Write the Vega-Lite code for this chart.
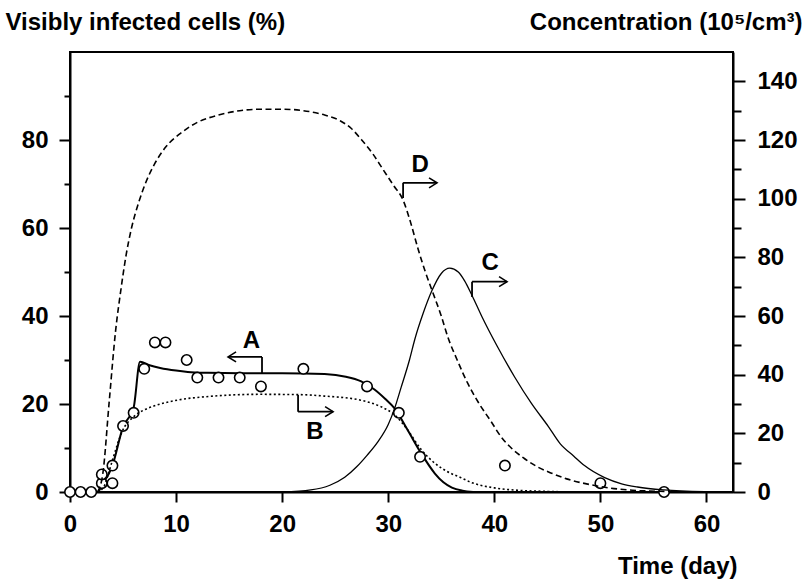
{
  "$schema": "https://vega.github.io/schema/vega-lite/v6.json",
  "width": 663,
  "height": 440,
  "autosize": "none",
  "padding": {"left": 70, "top": 52, "right": 73, "bottom": 89},
  "background": "white",
  "config": {
    "view": {"stroke": "black", "strokeWidth": 2},
    "font": "Liberation Sans",
    "axis": {
      "grid": false,
      "domainColor": "black",
      "domainWidth": 2,
      "tickColor": "black",
      "tickWidth": 2,
      "labelColor": "black",
      "labelFont": "Liberation Sans",
      "labelFontSize": 24,
      "labelFontWeight": "bold",
      "titleColor": "black",
      "titleFont": "Liberation Sans",
      "titleFontSize": 24,
      "titleFontWeight": "bold",
      "labelOverlap": false,
      "labelFlush": false,
      "titleAngle": 0
    }
  },
  "datasets": {
    "cells": [
      {"day": 0, "val": 0}, {"day": 1, "val": 0}, {"day": 2, "val": 0},
      {"day": 3, "val": 2}, {"day": 3, "val": 4}, {"day": 4, "val": 2}, {"day": 4, "val": 6},
      {"day": 5, "val": 15}, {"day": 6, "val": 18}, {"day": 7, "val": 28}, {"day": 8, "val": 34},
      {"day": 9, "val": 34}, {"day": 11, "val": 30}, {"day": 12, "val": 26}, {"day": 14, "val": 26},
      {"day": 16, "val": 26}, {"day": 18, "val": 24}, {"day": 22, "val": 28}, {"day": 28, "val": 24},
      {"day": 31, "val": 18}, {"day": 33, "val": 8}, {"day": 41, "val": 6}, {"day": 50, "val": 2},
      {"day": 56, "val": 0}
    ],
    "curveA": [
      {"day": 0, "val": 0}, {"day": 2.6, "val": 0}, {"day": 3, "val": 1.5}, {"day": 4, "val": 6},
      {"day": 5, "val": 14.8}, {"day": 6, "val": 19.2}, {"day": 6.6, "val": 29.6}, {"day": 7.5, "val": 28.8},
      {"day": 8.5, "val": 28.2}, {"day": 10, "val": 27.6}, {"day": 11.1, "val": 27.3}, {"day": 13, "val": 27.1},
      {"day": 16, "val": 27}, {"day": 20, "val": 27}, {"day": 24, "val": 26.8}, {"day": 26, "val": 26.2},
      {"day": 27.4, "val": 25.2}, {"day": 28.7, "val": 23.3}, {"day": 29.7, "val": 21.2}, {"day": 30.6, "val": 19},
      {"day": 31.8, "val": 14.2}, {"day": 33.1, "val": 8.8}, {"day": 34.4, "val": 4.2}, {"day": 35.2, "val": 2.2},
      {"day": 36, "val": 1}, {"day": 37, "val": 0.3}, {"day": 38, "val": 0}
    ],
    "curveB": [
      {"day": 2.6, "val": 0}, {"day": 3.2, "val": 1.8}, {"day": 3.6, "val": 6}, {"day": 4.1, "val": 12},
      {"day": 4.9, "val": 20.5}, {"day": 6, "val": 25.7}, {"day": 7, "val": 28}, {"day": 7.9, "val": 29.3},
      {"day": 10.1, "val": 31.3}, {"day": 13.2, "val": 32.6}, {"day": 17.9, "val": 33.3}, {"day": 21.5, "val": 33.2},
      {"day": 24, "val": 32.7}, {"day": 27.4, "val": 31.3}, {"day": 29.3, "val": 29.1}, {"day": 30.6, "val": 26.3},
      {"day": 31.8, "val": 21.3}, {"day": 33.1, "val": 14.5}, {"day": 34.4, "val": 9.8}, {"day": 35.6, "val": 6.9},
      {"day": 36.9, "val": 4.8}, {"day": 37.8, "val": 3.3}, {"day": 40, "val": 1.4}, {"day": 42.2, "val": 0.6},
      {"day": 45, "val": 0.2}, {"day": 48, "val": 0}
    ],
    "curveC": [
      {"day": 20, "val": 0}, {"day": 22.7, "val": 0.7}, {"day": 24.5, "val": 2.3}, {"day": 25.9, "val": 5},
      {"day": 27, "val": 8.5}, {"day": 28, "val": 12.5}, {"day": 29, "val": 17}, {"day": 30, "val": 23},
      {"day": 30.6, "val": 28.5}, {"day": 31.2, "val": 35.5}, {"day": 32, "val": 45}, {"day": 32.5, "val": 52},
      {"day": 33.3, "val": 61}, {"day": 34.1, "val": 68.5}, {"day": 35, "val": 74.5}, {"day": 35.8, "val": 76.3},
      {"day": 36.6, "val": 75}, {"day": 37.2, "val": 72}, {"day": 37.9, "val": 67}, {"day": 38.8, "val": 60},
      {"day": 40.3, "val": 49.5}, {"day": 41.9, "val": 39.3}, {"day": 43.5, "val": 30.2}, {"day": 45.1, "val": 22.3},
      {"day": 46.2, "val": 16.5}, {"day": 47.5, "val": 12.2}, {"day": 48.5, "val": 9}, {"day": 50.4, "val": 4.9},
      {"day": 52, "val": 2.8}, {"day": 53.5, "val": 1.7}, {"day": 56, "val": 0.7}, {"day": 60, "val": 0.1},
      {"day": 62.5, "val": 0}
    ],
    "curveD": [
      {"day": 2.6, "val": 0}, {"day": 3.1, "val": 6.4}, {"day": 3.7, "val": 31}, {"day": 4.3, "val": 55},
      {"day": 4.8, "val": 69}, {"day": 5.3, "val": 81}, {"day": 5.8, "val": 90}, {"day": 6.5, "val": 99},
      {"day": 7.2, "val": 106}, {"day": 8, "val": 112}, {"day": 9, "val": 117.5}, {"day": 10.5, "val": 122.5},
      {"day": 12, "val": 126}, {"day": 14, "val": 128.5}, {"day": 16, "val": 130}, {"day": 18, "val": 130.5},
      {"day": 20, "val": 130.5}, {"day": 22, "val": 130}, {"day": 24, "val": 128.5}, {"day": 25.5, "val": 126.5},
      {"day": 26.5, "val": 124}, {"day": 27.5, "val": 120}, {"day": 28.5, "val": 115.5}, {"day": 29.5, "val": 110},
      {"day": 30.5, "val": 104.5}, {"day": 31.4, "val": 99.5}, {"day": 32.1, "val": 92}, {"day": 32.8, "val": 83},
      {"day": 33.5, "val": 75}, {"day": 34.1, "val": 69}, {"day": 35, "val": 60}, {"day": 35.6, "val": 53},
      {"day": 36.5, "val": 45}, {"day": 37.5, "val": 37}, {"day": 38.5, "val": 30.5}, {"day": 39.7, "val": 24},
      {"day": 40.6, "val": 19}, {"day": 41.6, "val": 15}, {"day": 42.8, "val": 11.5}, {"day": 44, "val": 8.7},
      {"day": 45.4, "val": 6.4}, {"day": 47, "val": 4.3}, {"day": 49.2, "val": 2.4}, {"day": 51, "val": 1.3},
      {"day": 53, "val": 0.6}, {"day": 56, "val": 0.2}, {"day": 60, "val": 0}, {"day": 62.5, "val": 0}
    ],
    "arrowsL": [
      {"day": 18.1, "day2": 18.1, "val": 27.0, "val2": 30.7},
      {"day": 14.9, "day2": 18.1, "val": 30.7, "val2": 30.7}
    ],
    "headsL": [{"day": 14.9, "val": 30.7}],
    "labelsL": [{"day": 17.1, "val": 34.4, "label": "A"}],
    "arrowsR": [
      {"day": 21.5, "day2": 21.5, "val": 27.4, "val2": 33.1},
      {"day": 21.5, "day2": 24.8, "val": 27.4, "val2": 27.4},
      {"day": 37.9, "day2": 37.9, "val": 66.5, "val2": 71.7},
      {"day": 37.9, "day2": 41.2, "val": 71.7, "val2": 71.7},
      {"day": 31.4, "day2": 31.4, "val": 100.2, "val2": 105.4},
      {"day": 31.4, "day2": 34.6, "val": 105.4, "val2": 105.4}
    ],
    "headsR": [
      {"day": 24.8, "val": 27.4},
      {"day": 41.2, "val": 71.7},
      {"day": 34.6, "val": 105.4}
    ],
    "labelsR": [
      {"day": 23.1, "val": 20.6, "label": "B"},
      {"day": 39.6, "val": 78, "label": "C"},
      {"day": 33.0, "val": 111.5, "label": "D"}
    ]
  },
  "layer": [
    {
      "encoding": {
        "x": {
          "field": "day", "type": "quantitative", "title": "Time (day)",
          "scale": {"domain": [0, 62.5], "nice": false, "zero": false},
          "axis": {
            "orient": "bottom", "values": [0, 10, 20, 30, 40, 50, 60],
            "tickSize": 10, "labelPadding": 10,
            "titleX": 667, "titleY": 74, "titleAlign": "right", "titleBaseline": "middle"
          }
        },
        "y": {
          "field": "val", "type": "quantitative", "title": "Visibly infected cells (%)",
          "scale": {"domain": [0, 100], "nice": false},
          "axis": {
            "orient": "left", "values": [0, 10, 20, 30, 40, 50, 60, 70, 80, 90],
            "labelExpr": "datum.value % 20 === 0 ? datum.label : ''",
            "tickSize": {"condition": {"test": "datum.value % 20 === 0", "value": 11}, "value": 6},
            "labelPadding": 11,
            "titleX": -65, "titleY": -30, "titleAlign": "left", "titleBaseline": "middle"
          }
        }
      },
      "layer": [
        {"data": {"name": "curveA"}, "mark": {"type": "line", "interpolate": "monotone", "color": "black", "strokeWidth": 2}},
        {"data": {"name": "arrowsL"}, "mark": {"type": "rule", "color": "black", "strokeWidth": 1.8},
         "encoding": {"x2": {"field": "day2"}, "y2": {"field": "val2"}}},
        {"data": {"name": "headsL"}, "mark": {"type": "point", "shape": "M 2 -1.25 L 0 0 L 2 1.25", "size": 64, "filled": false, "stroke": "black", "strokeWidth": 1.6, "opacity": 1}},
        {"data": {"name": "labelsL"}, "mark": {"type": "text", "font": "Liberation Sans", "fontSize": 24, "fontWeight": "bold", "color": "black", "align": "center", "baseline": "middle"},
         "encoding": {"text": {"field": "label"}}},
        {"data": {"name": "cells"}, "mark": {"type": "point", "shape": "circle", "size": 108, "filled": true, "fill": "white", "stroke": "black", "strokeWidth": 1.6, "opacity": 1}}
      ]
    },
    {
      "encoding": {
        "x": {
          "field": "day", "type": "quantitative", "title": "Time (day)",
          "scale": {"domain": [0, 62.5], "nice": false, "zero": false},
          "axis": {
            "orient": "bottom", "values": [0, 10, 20, 30, 40, 50, 60],
            "tickSize": 10, "labelPadding": 10,
            "titleX": 667, "titleY": 74, "titleAlign": "right", "titleBaseline": "middle"
          }
        },
        "y": {
          "field": "val", "type": "quantitative", "title": "Concentration (10⁵/cm³)",
          "scale": {"domain": [0, 150], "nice": false},
          "axis": {
            "orient": "right", "values": [0, 10, 20, 30, 40, 50, 60, 70, 80, 90, 100, 110, 120, 130, 140],
            "labelExpr": "datum.value % 20 === 0 ? datum.label : ''",
            "tickSize": {"condition": {"test": "datum.value % 20 === 0", "value": 12}, "value": 8},
            "labelPadding": 12,
            "titleX": 69, "titleY": -30, "titleAlign": "right", "titleBaseline": "middle"
          }
        }
      },
      "layer": [
        {"data": {"name": "curveD"}, "mark": {"type": "line", "interpolate": "monotone", "color": "black", "strokeWidth": 1.6, "strokeDash": [6, 3.5]}},
        {"data": {"name": "curveC"}, "mark": {"type": "line", "interpolate": "monotone", "color": "black", "strokeWidth": 1.3}},
        {"data": {"name": "curveB"}, "mark": {"type": "line", "interpolate": "monotone", "color": "black", "strokeWidth": 1.6, "strokeDash": [2, 2.5]}},
        {"data": {"name": "arrowsR"}, "mark": {"type": "rule", "color": "black", "strokeWidth": 1.8},
         "encoding": {"x2": {"field": "day2"}, "y2": {"field": "val2"}}},
        {"data": {"name": "headsR"}, "mark": {"type": "point", "shape": "M -2 -1.25 L 0 0 L -2 1.25", "size": 64, "filled": false, "stroke": "black", "strokeWidth": 1.6, "opacity": 1}},
        {"data": {"name": "labelsR"}, "mark": {"type": "text", "font": "Liberation Sans", "fontSize": 24, "fontWeight": "bold", "color": "black", "align": "center", "baseline": "middle"},
         "encoding": {"text": {"field": "label"}}}
      ]
    }
  ],
  "resolve": {"scale": {"y": "independent"}}
}
